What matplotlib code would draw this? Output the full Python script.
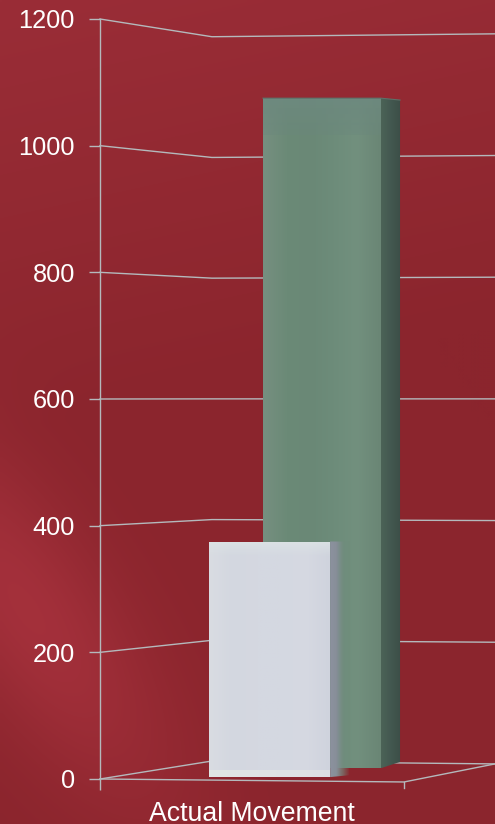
import numpy as np
import matplotlib
matplotlib.use("Agg")
import matplotlib.pyplot as plt
from matplotlib.colors import LinearSegmentedColormap, to_rgb

plt.rcParams["font.family"] = ["Liberation Sans", "DejaVu Sans"]

# ── Data ──────────────────────────────────────────────────────
categories   = ["Actual Movement"]
back_values  = [1075]
front_values = [375]
y_ticks      = [0, 200, 400, 600, 800, 1000, 1200]

WALL = "#b4b9bc"
TEXT = "#ffffff"
XMAX = 0.5 + 91 / 304


def back(v):
    # value on the rear wall, expressed in front-plane units
    return 28.4 + 0.953 * np.asarray(v, dtype=float)


def back_right(v):
    mid = back(600)
    return mid + (back(v) - mid) * 1.008


def face(ax, x, y, colors, zorder, horizontal=True):
    # quadrilateral filled with a gradient, clipped to its outline
    poly = plt.Polygon(list(zip(x, y)), closed=True, fc="none", ec="none", zorder=zorder)
    ax.add_patch(poly)
    cmap = LinearSegmentedColormap.from_list("f", colors)
    grad = np.linspace(0, 1, 128).reshape(1, -1) if horizontal else np.linspace(0, 1, 128).reshape(-1, 1)
    im = ax.imshow(grad, cmap=cmap, aspect="auto", zorder=zorder, origin="lower", vmin=0, vmax=1,
                   extent=(min(x), max(x), min(y), max(y)), interpolation="bilinear")
    im.set_clip_path(poly)
    return im


fig = plt.figure(figsize=(4.95, 8.24), dpi=100)

# ── Background ────────────────────────────────────────────────
bg_ax = fig.add_axes([0, 0, 1, 1])
bg_ax.axis("off")
yy, xx = np.mgrid[0:1:206j, 0:1:124j]
base = np.array(to_rgb("#8b252d"))
upper = np.array(to_rgb("#9a2d37"))
glow = np.array(to_rgb("#ae3541"))
t1 = np.clip(1 - yy * 1.9 - xx * 0.25, 0, 1)[..., None]
# glow band runs from the left edge down and to the right
u = (xx - 0.05) * 0.8 + (yy - 0.74) * 0.6
w = -(xx - 0.05) * 0.6 + (yy - 0.74) * 0.8
t2 = np.exp(-((u / 0.34) ** 2 + (w / 0.13) ** 2))[..., None] * 0.7
bg = base * (1 - t1) + upper * t1
bg = bg * (1 - t2) + glow * t2
bg_ax.imshow(np.clip(bg, 0, 1), aspect="auto", extent=(0, 1, 0, 1), interpolation="bilinear")

# ── Axes ──────────────────────────────────────────────────────
ax = fig.add_axes([100 / 495, 45 / 824, 395 / 495, 760 / 824])
ax.patch.set_visible(False)

# walls and floor
for v in y_ticks:
    ax.plot([-0.5, -0.132, XMAX], [v, back(v), back_right(v)],
            color=WALL, lw=1.0, zorder=1, clip_on=False)
ax.plot([-0.5, 0.5, XMAX], [0, -4.7, back_right(0)], color=WALL, lw=1.0, zorder=1, clip_on=False)
ax.plot([0.5, 0.5], [-4.7, -14], color=WALL, lw=1.0, zorder=1, clip_on=False)

# rear bar
gl, gr, gs = 0.036, 0.424, 0.487
g_bot, g_bot_s, g_top_s = 17, 27, back_values[0] - 3
face(ax, [gr, gs, gs, gr], [g_bot, g_bot_s, g_top_s, back_values[0]],
     ["#4c6357", "#435850", "#3c4e47"], 3)
face(ax, [gl, gr, gr, gl], [g_bot, g_bot, back_values[0], back_values[0]],
     ["#768f80", "#6b8a77", "#6a8876", "#6d8c7a", "#72907e", "#6a8675"], 3.1)
face(ax, [gl, gr, gr, gl], [1017, 1017, back_values[0], back_values[0]],
     [(0.42, 0.53, 0.49, 0.35), (0.43, 0.54, 0.50, 0.9)], 3.2, horizontal=False)
ax.plot([gl, gr, gs], [back_values[0], back_values[0], g_top_s], color="#5e7068", lw=0.8, zorder=3.3)

# front bar
wl, wr, ws = -0.141, 0.257, 0.32
w_bot = 3
face(ax, [wr, ws, ws, wr], [w_bot, w_bot + 3, front_values[0], front_values[0]],
     [(0.55, 0.57, 0.62, 1), (0.53, 0.56, 0.60, 1), (0.45, 0.55, 0.50, 0.6), (0.43, 0.55, 0.48, 0)], 4)
face(ax, [wl, wr, wr, wl], [w_bot, w_bot, front_values[0], front_values[0]],
     ["#d9dce2", "#d3d7e0", "#d5d8e1", "#d4d8e1", "#d6d9e2", "#cfd3dd"], 5.1)
face(ax, [wl, wr, wr, wl], [w_bot, w_bot, 14, 14],
     [(0.89, 0.91, 0.90, 0.9), (0.89, 0.90, 0.90, 0.7)], 5.2)
face(ax, [wl, wr, wr, wl], [350, 350, front_values[0], front_values[0]],
     [(0.86, 0.89, 0.90, 0), (0.87, 0.90, 0.90, 0.8)], 5.2, horizontal=False)

# ── Ticks and labels ──────────────────────────────────────────
ax.set_xlim(-0.5, XMAX)
ax.set_ylim(0, 1200)
ax.set_yticks(y_ticks)
ax.tick_params(axis="y", length=8, width=1.0, color=WALL, labelcolor=TEXT, labelsize=18.3, pad=10)
ax.set_xticks([-0.5])
ax.set_xticklabels([""])
ax.tick_params(axis="x", length=8, width=1.0, color=WALL)
ax.text(0, -67, categories[0], color=TEXT, fontsize=19.2, ha="center", va="baseline", clip_on=False)
for side in ["top", "right", "bottom"]:
    ax.spines[side].set_visible(False)
ax.spines["left"].set_color(WALL)
ax.spines["left"].set_linewidth(1.0)
ax.set_xlim(-0.5, XMAX)
ax.set_ylim(0, 1200)

fig.savefig("out.png", dpi=100)
